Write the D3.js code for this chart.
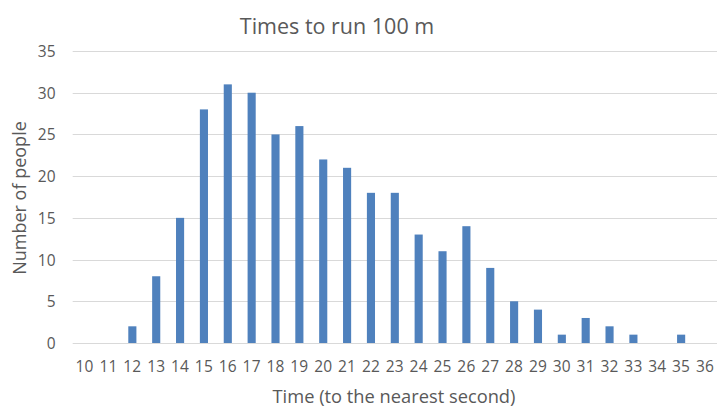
<!DOCTYPE html>
<html><head><meta charset="utf-8">
<script src="https://cdn.jsdelivr.net/npm/d3@7"></script>
<style>body{margin:0;background:#fff}svg{display:block}text{font-family:"Open Sans",sans-serif;fill:#595959}</style>
</head><body><svg id="c" width="717" height="407"></svg>
<script>
const categories = [10,11,12,13,14,15,16,17,18,19,20,21,22,23,24,25,26,27,28,29,30,31,32,33,34,35,36];
const counts = [0,0,2,8,15,28,31,30,25,26,22,21,18,18,13,11,14,9,5,4,1,3,2,1,0,1,0];
const yTicks = [0,5,10,15,20,25,30,35];
const title = "Times to run 100 m";
const xTitle = "Time (to the nearest second)";
const yTitle = "Number of people";

(function(){
const svg = d3.select("#c");
const pLeft = 72.7, pRight = 717, pTop = 51, pBottom = 343;
const x = d3.scaleBand().domain(categories).range([pLeft, pLeft + 27*23.86]).paddingInner(0.66).paddingOuter(0.33);
const y = d3.scaleLinear().domain([0,35]).range([pBottom, pTop]);

svg.append("g").selectAll("line").data(yTicks).join("line")
  .attr("x1", pLeft).attr("x2", pRight).attr("y1", d=>Math.round(y(d))+0.5).attr("y2", d=>Math.round(y(d))+0.5)
  .attr("stroke", "#d9d9d9").attr("stroke-width", 1);

svg.append("g").selectAll("rect").data(categories).join("rect")
  .attr("x", d=>x(d)).attr("width", x.bandwidth())
  .attr("y", (d,i)=>y(counts[i])).attr("height", (d,i)=>y(0)-y(counts[i]))
  .attr("fill", "#4f81bd");

svg.append("g").selectAll("text").data(yTicks).join("text")
  .attr("x", 55.5).attr("y", d=>y(d)+6).attr("text-anchor","end")
  .attr("font-size", 15.5).text(d=>d);

svg.append("g").selectAll("text").data(categories).join("text")
  .attr("x", d=>x(d)+x.bandwidth()/2).attr("y", 372).attr("text-anchor","middle")
  .attr("font-size", 15.5).attr("letter-spacing", 0.2).text(d=>d);

svg.append("text").attr("x", 337).attr("y", 34).attr("text-anchor","middle")
  .attr("font-size", 21.5).text(title);
svg.append("text").attr("x", 394).attr("y", 403).attr("text-anchor","middle")
  .attr("font-size", 18.3).text(xTitle);
svg.append("text").attr("transform","translate(26,198) rotate(-90)").attr("text-anchor","middle")
  .attr("font-size", 18).text(yTitle);
})();
</script></body></html>
